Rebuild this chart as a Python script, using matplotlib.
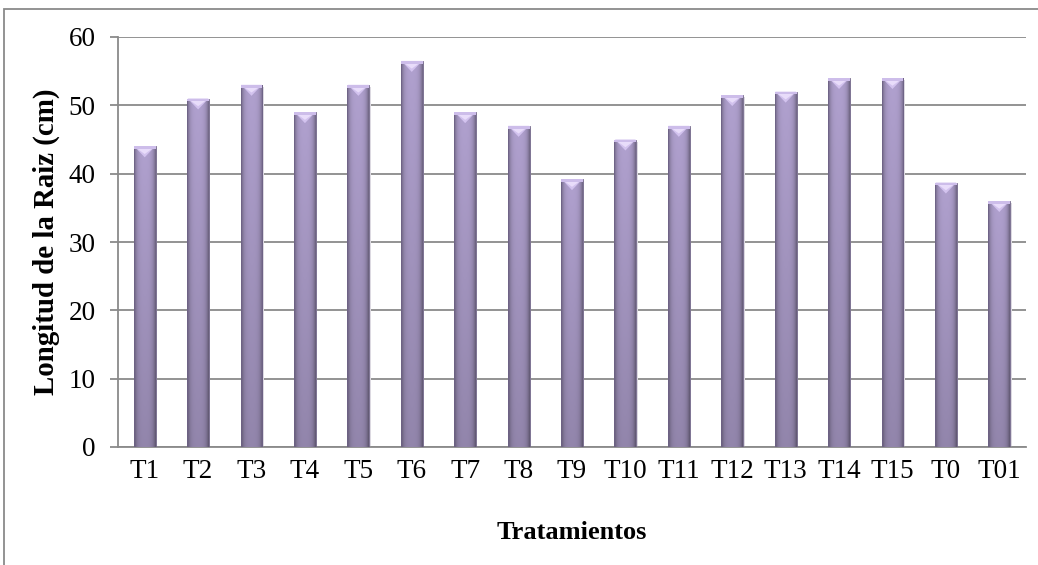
import matplotlib
matplotlib.use('Agg')
import matplotlib.pyplot as plt
import numpy as np
from matplotlib.patches import Rectangle, Polygon

plt.rc('font', family='Liberation Serif', size=19.5)

tratamientos = ['T1', 'T2', 'T3', 'T4', 'T5', 'T6', 'T7', 'T8', 'T9',
                'T10', 'T11', 'T12', 'T13', 'T14', 'T15', 'T0', 'T01']
longitud = [44, 51, 53, 49, 53, 56.5, 49, 47, 39.2,
            45, 47, 51.5, 52, 54, 54, 38.7, 36]

grid_col = '#8a8a8a'
W, H = 1038, 565


def bar_texture(ncol=40, nrow=200):
    # cylinder-like shading: light in the middle, dark at the sides and bottom
    xs = np.linspace(-1, 1, ncol)
    side = 1.0 - 0.30 * xs**4 - 0.06 * xs**2
    ys = np.linspace(0, 1, nrow)[:, None]   # 0 = bottom, 1 = top
    vert = 0.83 + 0.17 * ys
    base = np.array([0.69, 0.63, 0.81])
    img = base[None, None, :] * (side[None, :, None] * vert[:, :, None])
    return np.clip(img, 0, 1)


fig = plt.figure(figsize=(W / 100, H / 100), dpi=100)
ax = fig.add_axes([118 / W, 1 - 447 / H, (1026 - 118) / W, (447 - 37) / H])

x = np.arange(len(tratamientos))
width = 0.41
bars = ax.bar(x, longitud, width=width, color='#9b8db5', edgecolor='none', zorder=3)

ax.set_xlim(-0.5, len(tratamientos) - 0.5)
ax.set_ylim(0, 60)
ax.set_yticks(np.arange(0, 61, 10))
ax.set_xticks(x)
ax.set_xticklabels(tratamientos)

# px per data unit, for the little pyramid caps
ppu_y = (447 - 37) / 60.0
cap_h = 11.0 / ppu_y

tex = bar_texture()
for b, val in zip(bars, longitud):
    x0 = b.get_x()
    w = b.get_width()
    im = ax.imshow(tex, extent=[x0, x0 + w, 0, val], origin='lower',
                   aspect='auto', zorder=4, interpolation='bilinear')
    im.set_clip_path(b)
    # soft shadow on the right side
    ax.add_patch(Rectangle((x0 + w, 0), 0.025, val - 0.3, color='#dcd9e1',
                           zorder=2, lw=0))
    # dark thin outline
    ax.add_patch(Rectangle((x0, 0), w, val, fill=False, edgecolor='#6f6387',
                           lw=0.6, zorder=5))
    # light cap on top
    ax.add_patch(Polygon([[x0 + 0.01, val], [x0 + w - 0.01, val],
                          [x0 + w / 2, val - cap_h]], closed=True,
                         facecolor='#d2c2ee', edgecolor='none', zorder=5))
    ax.add_patch(Polygon([[x0 + 0.06, val - 0.3], [x0 + w - 0.06, val - 0.3],
                          [x0 + w / 2, val - cap_h * 0.7]], closed=True,
                         facecolor='#e8dcfa', edgecolor='none', zorder=5))
    ax.add_patch(Rectangle((x0, val - 0.4), w, 0.4, facecolor='#cdbdea',
                           edgecolor='none', zorder=5))

ax.yaxis.grid(True, color=grid_col, lw=1.3, zorder=1)
ax.set_axisbelow(True)
for s in ['top', 'right']:
    ax.spines[s].set_visible(False)
for s in ['left', 'bottom']:
    ax.spines[s].set_color(grid_col)
    ax.spines[s].set_linewidth(1.3)
ax.tick_params(axis='y', length=6, width=1.3, color=grid_col, pad=10)
ax.tick_params(axis='x', length=0, pad=9)

ax.set_xlabel('Tratamientos', fontweight='bold', fontsize=19, labelpad=26)
ax.set_ylabel('Longitud de la Raiz (cm)', fontweight='bold', fontsize=20.8, labelpad=6)

# outer chart border (cut off at the right and bottom)
fig.patches.append(Rectangle((4 / W, -0.1), 1.2, 1 - 9 / H + 0.1, fill=False,
                             edgecolor=grid_col, lw=1.3,
                             transform=fig.transFigure, figure=fig))

fig.savefig('out.png', dpi=100)
